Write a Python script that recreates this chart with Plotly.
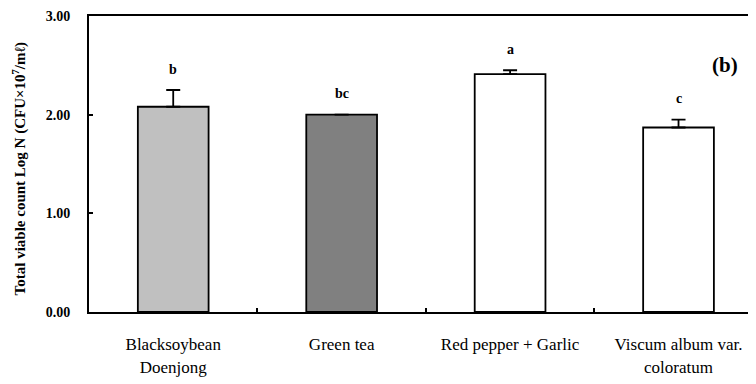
import plotly.graph_objects as go

# ---- data ----
categories = ["Blacksoybean", "Green tea", "Red pepper + Garlic", "Viscum album var."]
label_line2 = ["Doenjong", "", "", "coloratum"]
values = [2.08, 2.00, 2.41, 1.87]
errors = [0.17, None, 0.04, 0.08]
letters = ["b", "bc", "a", "c"]
bar_colors = ["#C0C0C0", "#808080", "#FFFFFF", "#FFFFFF"]
y_ticks = [0, 1, 2, 3]

FONT = "Liberation Serif"

fig = go.Figure()
fig.add_trace(go.Bar(
    x=categories, y=values,
    marker=dict(color=bar_colors, line=dict(color="black", width=1.8)),
    error_y=dict(type="data", array=errors, arrayminus=[0] * len(errors),
                 symmetric=False, color="black", thickness=1.8, width=7,
                 visible=True),
    showlegend=False,
))

# second line of the category labels on an overlaying axis
l2_idx = [i for i, t in enumerate(label_line2) if t]
fig.add_trace(go.Scatter(
    x=list(range(len(categories))), y=[None] * len(categories),
    xaxis="x2", mode="markers", showlegend=False, hoverinfo="skip",
))

for c, v, e, t in zip(categories, values, errors, letters):
    fig.add_annotation(x=c, y=v + (e or 0), text="<b>" + t + "</b>", showarrow=False,
                       yshift=21, yanchor="middle",
                       font=dict(family=FONT, size=14, color="black"))

fig.add_annotation(xref="paper", yref="paper", x=0.954, y=0.834, text="<b>(b)</b>",
                   showarrow=False, xanchor="center", yanchor="middle",
                   font=dict(family=FONT, size=21, color="black"))

fig.add_annotation(xref="paper", yref="paper", x=-0.105, y=0.485, textangle=-90,
                   text="<b>Total viable count Log N (CFU×10<sup>7</sup>/mℓ)</b>",
                   showarrow=False, xanchor="center", yanchor="middle",
                   font=dict(family=FONT, size=15, color="black"))

fig.update_layout(
    width=748, height=376,
    margin=dict(l=81, r=0, t=8, b=72),
    plot_bgcolor="white", paper_bgcolor="white",
    bargap=0.58,
    font=dict(family=FONT, color="black"),
    xaxis=dict(
        type="category", range=[-0.5, 3.46], automargin=False,
        showline=True, linecolor="black", linewidth=2, mirror=True,
        ticks="inside", ticklen=4, tickcolor="black", tickwidth=1.5,
        tickson="boundaries", showgrid=False, zeroline=False,
        tickfont=dict(family=FONT, size=17, color="black"),
        ticklabelstandoff=16,
    ),
    xaxis2=dict(
        overlaying="x", anchor="y", side="bottom", range=[-0.5, 3.46], automargin=False,
        tickmode="array", tickvals=l2_idx, ticktext=[label_line2[i] for i in l2_idx],
        showline=False, ticks="", showgrid=False, zeroline=False,
        tickfont=dict(family=FONT, size=17, color="black"),
        ticklabelstandoff=43,
    ),
    yaxis=dict(
        range=[0, 3], tickvals=y_ticks, tickformat=".2f", automargin=False,
        showline=True, linecolor="black", linewidth=2,
        ticks="inside", ticklen=4, tickcolor="black", tickwidth=1.5,
        showgrid=False, zeroline=False,
        tickfont=dict(family=FONT, size=14, color="black", weight="bold"),
        ticklabelstandoff=14,
    ),
)

fig.write_html("out.html")
